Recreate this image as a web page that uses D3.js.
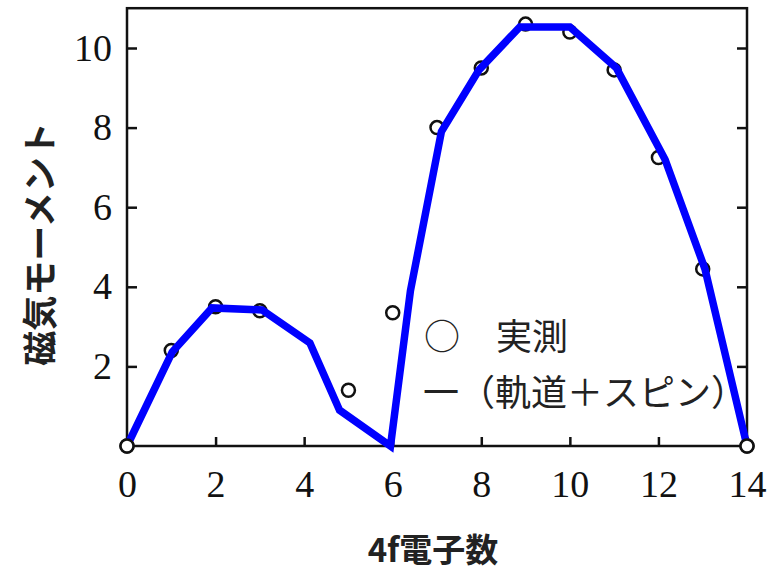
<!DOCTYPE html>
<html>
<head>
<meta charset="utf-8">
<script src="https://cdn.jsdelivr.net/npm/d3@7"></script>
<style>
  body { margin: 0; background: #fff; }
  svg { display: block; }
</style>
</head>
<body>
<div id="chart"></div>
<script>
// measured moments (circles), by number of 4f electrons
var measuredN = [0, 1, 2, 3, 5, 6, 7, 8, 9, 10, 11, 12, 13, 14];
var measuredM = [0, 2.4, 3.5, 3.4, 1.4, 3.35, 8.0, 9.5, 10.6, 10.4, 9.45, 7.25, 4.45, 0];

// blue line (orbit + spin), vertices
var lineN = [0, 1.02, 1.92, 3.05, 4.13, 4.8, 5.95, 6.4, 7.1, 7.95, 8.87, 10.0, 11.05, 12.15, 13.05, 14];
var lineM = [0, 2.36, 3.47, 3.42, 2.59, 0.9, 0, 3.9, 7.9, 9.45, 10.53, 10.53, 9.5, 7.2, 4.45, 0];

var xTicks = [0, 2, 4, 6, 8, 10, 12, 14];
var yTicks = [2, 4, 6, 8, 10];

var w = 775, h = 573;
var plotLeft = 127, plotRight = 747, plotTop = 8.2, plotBottom = 446;

var svg = d3.select("#chart").append("svg")
    .attr("width", w)
    .attr("height", h);

var x = d3.scaleLinear().domain([0, 14]).range([plotLeft, plotRight]);
var y = d3.scaleLinear().domain([0, 11]).range([plotBottom, plotTop]);

// axes with inward ticks
var serif = "'Liberation Serif', 'DejaVu Serif', serif";

var gx = svg.append("g")
    .attr("transform", "translate(0," + plotBottom + ")")
    .call(d3.axisBottom(x).tickValues(xTicks).tickSize(-9).tickPadding(24));

var gy = svg.append("g")
    .attr("transform", "translate(" + plotLeft + ",0)")
    .call(d3.axisLeft(y).tickValues(yTicks).tickSize(-10).tickPadding(15));

var gr = svg.append("g")
    .attr("transform", "translate(" + plotRight + ",0)")
    .call(d3.axisRight(y).tickValues(yTicks).tickSize(-10).tickFormat(""));

[gx, gy, gr].forEach(function (g) {
    g.select(".domain").remove();
    g.selectAll(".tick line").attr("stroke", "#111").attr("stroke-width", 2.5);
    g.selectAll("text")
        .attr("font-family", serif)
        .attr("font-size", "38px")
        .attr("fill", "#111");
});

// frame
svg.append("rect")
    .attr("x", plotLeft)
    .attr("y", plotTop)
    .attr("width", plotRight - plotLeft)
    .attr("height", plotBottom - plotTop)
    .attr("fill", "none")
    .attr("stroke", "#111")
    .attr("stroke-width", 2.5);

// axis titles
var gothic = "'Noto Sans CJK JP', 'Noto Sans', sans-serif";

svg.append("text")
    .attr("transform", "translate(37,244) rotate(-90)")
    .attr("text-anchor", "middle")
    .attr("dominant-baseline", "central")
    .attr("font-family", gothic)
    .attr("font-weight", "bold")
    .attr("font-size", "35px")
    .attr("fill", "#222")
    .text("磁気モーメント");

svg.append("text")
    .attr("x", 433)
    .attr("y", 562)
    .attr("text-anchor", "middle")
    .attr("font-family", gothic)
    .attr("font-weight", "bold")
    .attr("font-size", "33px")
    .attr("fill", "#222")
    .text("4f電子数");

// legend
svg.append("text")
    .attr("x", 424)
    .attr("y", 350)
    .attr("font-family", gothic)
    .attr("font-size", "36px")
    .attr("fill", "#222")
    .text("○　実測");

svg.append("text")
    .attr("x", 423)
    .attr("y", 406)
    .attr("font-family", gothic)
    .attr("font-size", "36px")
    .attr("fill", "#222")
    .text("一（軌道＋スピン）");

// measured points
var points = measuredN.map(function (n, i) { return [n, measuredM[i]]; });

function drawCircles(sel) {
    sel.enter()
        .append("circle")
        .attr("cx", function (d) { return x(d[0]); })
        .attr("cy", function (d) { return y(d[1]); })
        .attr("r", 6.5)
        .attr("fill", "#fff")
        .attr("stroke", "#111")
        .attr("stroke-width", 2.5);
}

drawCircles(svg.append("g").selectAll("circle").data(points));

// blue line
var linePts = lineN.map(function (n, i) { return [n, lineM[i]]; });

svg.append("path")
    .datum(linePts)
    .attr("d", d3.line()
        .x(function (d) { return x(d[0]); })
        .y(function (d) { return y(d[1]); }))
    .attr("fill", "none")
    .attr("stroke", "#0000ff")
    .attr("stroke-width", 7.5)
    .attr("stroke-linejoin", "miter");

// end points sit on top of the line
drawCircles(svg.append("g").selectAll("circle")
    .data(points.filter(function (d) { return d[1] === 0; })));
</script>
</body>
</html>
